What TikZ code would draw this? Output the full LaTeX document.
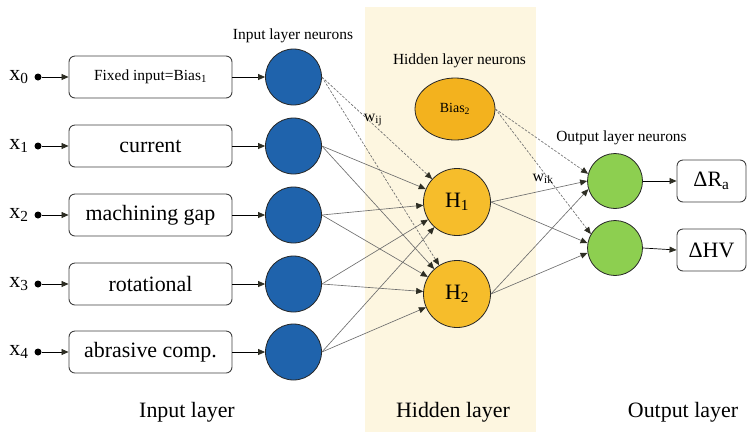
\documentclass[tikz,border=0pt]{standalone}
\usepackage{fontspec}
\setmainfont{Liberation Serif}
\usetikzlibrary{arrows.meta,shapes.geometric}
\definecolor{nblue}{RGB}{31,99,172}
\definecolor{norange}{RGB}{246,189,43}
\definecolor{nbias}{RGB}{243,178,30}
\definecolor{ngreen}{RGB}{141,207,80}
\definecolor{panel}{RGB}{253,246,224}
\definecolor{lgray}{RGB}{110,110,110}
\definecolor{tipc}{RGB}{45,45,35}
\begin{document}
\begin{tikzpicture}[x=1bp,y=-1bp,
  big/.style={font=\fontsize{22}{24}\selectfont},
  small/.style={font=\fontsize{15.5}{17}\selectfont},
  inbox/.style={draw=black!75, line width=0.9pt, rounded corners=6bp, minimum width=163bp, minimum height=42bp, inner sep=0pt, fill=white, big},
  outbox/.style={inbox, minimum width=69bp},
  neuron/.style={circle, draw=black!85, line width=0.8pt, minimum size=56bp, inner sep=0pt},
  hid/.style={neuron, fill=norange, minimum size=67bp, big},
  tip/.style={-{Triangle[length=7bp,width=6bp,color=tipc]}},
  feed/.style={draw=black, line width=0.7pt, tip},
  link/.style={draw=lgray, line width=0.65pt, tip},
  dlink/.style={link, dash pattern=on 2.5bp off 1.5bp},
  dot/.style={circle, fill=black, minimum size=7bp, inner sep=0pt}
]
\useasboundingbox (0,0) rectangle (749,432);
\fill[panel] (365,7) rectangle (536,432);

% input layer
\foreach \i/\y/\t/\f in {0/77/{Fixed input=Bias\textsubscript{1}}/{\fontsize{15.5}{18}\selectfont},
                         1/146/{current}/{},
                         2/215/{machining gap}/{},
                         3/284/{rotational}/{},
                         4/352/{abrasive comp.}/{}}{
  \node[big] (x\i) at (19,\y) {x\textsubscript{\i}};
  \node[dot] (d\i) at (38,\y) {};
  \node[inbox] (b\i) at (150.5,\y) {\f\t};
  \node[neuron, fill=nblue] (i\i) at (293.5,\y) {};
  \draw[feed] (d\i) -- (b\i.west);
  \draw[feed] (b\i.east) -- (i\i.west);
}

% hidden layer
\node[ellipse, draw=black!85, line width=0.8pt, fill=nbias, minimum width=80bp, minimum height=62bp, inner sep=0pt,
      font=\fontsize{14}{16}\selectfont] (bias2) at (455,109) {Bias\textsubscript{2}};
\node[hid] (h1) at (457,202) {H\textsubscript{1}};
\node[hid] (h2) at (457,294) {H\textsubscript{2}};

% output layer
\node[neuron, fill=ngreen, minimum size=55bp] (o1) at (615,181) {};
\node[neuron, fill=ngreen, minimum size=55bp] (o2) at (615,248) {};
\node[outbox] (r1) at (711.5,181) {ΔR\textsubscript{a}};
\node[outbox] (r2) at (711.5,250) {ΔHV};
\draw[feed] (o1.east) -- (r1.west);
\draw[feed] (o2.east) -- (r2.west);

% input -> hidden
\draw[dlink] (i0.east) -- (h1);
\draw[dlink] (i0.east) -- (h2);
\foreach \i in {1,2,3,4}{
  \draw[link] (i\i.east) -- (h1);
  \draw[link] (i\i.east) -- (h2);
}

% hidden -> output
\draw[dlink] (bias2.east) -- (o1.165);
\draw[dlink] (bias2.east) -- (o2.150);
\draw[link] (h1.east) -- (o1.180);
\draw[link] (h2.east) -- (o1.197);
\draw[link] (h1.east) -- (o2.170);
\draw[link] (h2.east) -- (o2.190);

% labels
\node[small] (lin) at (293,36) {Input layer neurons};
\node[small] (lhid) at (459.5,61) {Hidden layer neurons};
\node[small] (lout) at (621.5,138) {Output layer neurons};
\node[font=\fontsize{16}{18}\selectfont] (wij) at (373,120) {w\textsubscript{ij}};
\node[font=\fontsize{16}{18}\selectfont] (wik) at (543,179) {w\textsubscript{ik}};
\node[big] (tin) at (187,412) {Input layer};
\node[big] (thid) at (453,412) {Hidden layer};
\node[big] (tout) at (683,412) {Output layer};
\end{tikzpicture}
\end{document}
